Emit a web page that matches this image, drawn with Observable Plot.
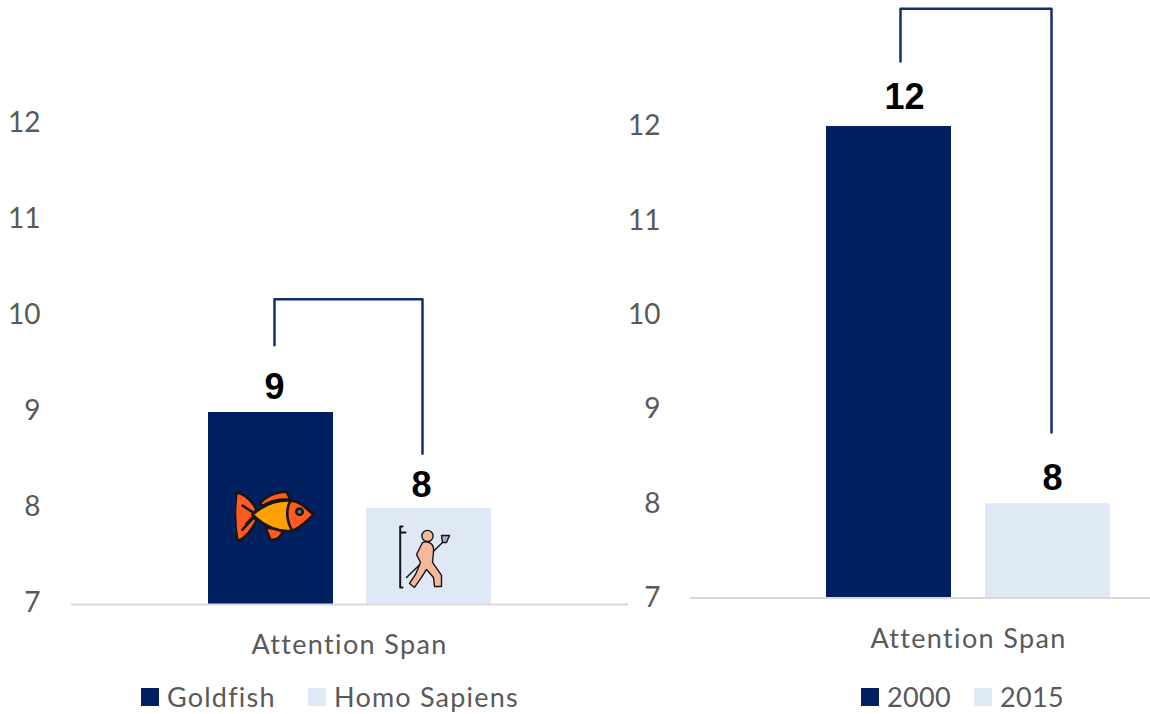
<!DOCTYPE html>
<html>
<head>
<meta charset="utf-8">
<script src="https://cdn.jsdelivr.net/npm/d3@7"></script>
<script src="https://cdn.jsdelivr.net/npm/@observablehq/plot@0.6"></script>
<style>
  html, body { margin: 0; background: #fff; }
  #page { position: relative; width: 1150px; height: 714px; overflow: hidden; font-family: Lato, sans-serif; }
  .panel { position: absolute; top: 0; }
  .panel svg { display: block; overflow: visible; }
  .axis-title text { letter-spacing: 1.35px; }
  .legend { position: absolute; color: #595959; font-size: 27px; line-height: 30px; white-space: nowrap; letter-spacing: 1.2px; }
  .legend span { position: absolute; top: 0; }
  .legend span.year { letter-spacing: 0.3px; }
  .legend i { position: absolute; width: 18px; height: 18px; top: 6px; }
</style>
</head>
<body>
<div id="page"></div>
<script>
const NAVY = "#002060", PALE = "#DEE9F5", GREY = "#595959", RULE = "#D9D9D9", LINK = "#123070";

// Left comparison
const speciesNames = ["Goldfish", "Homo Sapiens"];
const speciesValues = [9, 8];
const speciesBarStart = [1.096, 2.36];
const speciesLabelX = [1.624, 2.8];
const speciesBracketX = [1.624, 1.624, 2.808, 2.808];
const speciesBracketY = [9.7, 10.18, 10.18, 8.57];

// Right comparison
const yearNames = ["2000", "2015"];
const yearValues = [12, 8];
const yearBarStart = [1.088, 2.36];
const yearLabelX = [1.712, 2.896];
const yearBracketX = [1.68, 1.68, 2.888, 2.888];
const yearBracketY = [12.69, 13.25, 13.25, 8.755];

const yTicks = [7, 8, 9, 10, 11, 12];
const colours = [NAVY, PALE];

// Icons are inline SVG documents placed as image marks
const svgUri = s => "data:image/svg+xml;charset=utf-8," + encodeURIComponent(s);
const fishIcon = svgUri(`<svg xmlns="http://www.w3.org/2000/svg" viewBox="0 0 80 53">
<g stroke="#161616" stroke-width="2.6" stroke-linejoin="round" stroke-linecap="round">
<path fill="#FF5A1F" d="M25,14C30,8 40,2 52,2L56,10C45,9 34,12 29,16Z"/>
<path fill="#FF5A1F" d="M31,38L36,50C42,51 47,47 49,40Z"/>
<path fill="#FF5A1F" d="M2,3C11,4 19,13 22,20L18,25L22,31C18,39 10,50 3,51C0,36 0,18 2,3Z"/>
<path fill="none" d="M8,16L19,23M8,40L19,28M12,34L19,27"/>
<path fill="#FF9F00" d="M18,25C30,14 45,10 58,11C66,12 73,20 79,25C73,31 66,38 58,41C45,43 30,37 18,25Z"/>
<path fill="#FF5A1F" d="M56,11C66,11 73,20 79,25C73,31 66,38 58,41C52,33 51,19 56,11Z"/>
<circle cx="65" cy="22" r="3.2" fill="#5C7A80"/>
</g></svg>`);
const hunterIcon = svgUri(`<svg xmlns="http://www.w3.org/2000/svg" viewBox="0 0 56 66">
<g stroke="#161616" stroke-linecap="round" stroke-linejoin="round">
<path fill="none" stroke-width="2" d="M5,2L2.7,2L2.7,63L5,63M2.7,8L8,8"/>
<path fill="none" stroke-width="1.5" d="M9,53L46,17"/>
<path fill="#9DB7BE" stroke-width="1.4" d="M45,18L44,11L52,11L49,18Z"/>
<path fill="#F4B89A" stroke-width="1.4" d="M25,18C32,16 37,20 36,27L35,38L44,51L44,62L37,62L36,53L29,45L24,53L17,63L12,59L18,50L23,38L19,30Z"/>
<circle cx="30" cy="11.5" r="5.6" fill="#F4B89A" stroke-width="1.4"/>
</g></svg>`);

function comparisonPanel({left, width, marginLeft, axisY, unit, names, values, starts, labelX, labelDy, tickDy, bracketX, bracketY, xMax, titleX, titleDy, icons}) {
  const rows = names.map((name, i) => ({name, value: values[i], start: starts[i], labelX: labelX[i], colour: colours[i]}));
  const bracket = bracketX.map((x, i) => ({x, y: bracketY[i]}));
  const chart = Plot.plot({
    width, height: 714, marginLeft, marginRight: 0, marginTop: 0, marginBottom: 0,
    x: {type: "linear", domain: [0, xMax], range: [marginLeft, width], axis: null},
    y: {type: "linear", domain: [7, 7 + axisY / unit], range: [axisY, 0]},
    style: {background: "transparent", overflow: "visible"},
    marks: [
      Plot.rectY(rows, {x1: "start", x2: d => d.start + 1, y1: 7, y2: "value", fill: d => d.colour}),
      Plot.ruleY([7], {stroke: RULE, strokeWidth: 2.2}),
      Plot.axisY({ticks: yTicks, tickSize: 0, tickPadding: marginLeft - 40, label: null, dy: tickDy,
                  fill: GREY, fontSize: 28, fontFamily: "Lato, sans-serif", tickFormat: d3.format("d")}),
      Plot.line(bracket, {x: "x", y: "y", stroke: LINK, strokeWidth: 2.5}),
      ...rows.map((r, i) => Plot.text([r], {x: "labelX", y: "value", text: d => String(d.value), dy: labelDy[i],
                  fontFamily: "Liberation Sans", fontWeight: "bold", fontSize: 36, fill: "#000"})),
      Plot.text(["Attention Span"], {x: [titleX], y: [7], dy: titleDy, fill: GREY, fontSize: 27,
                  fontFamily: "Lato, sans-serif", className: "axis-title"}),
      ...(icons || [])
    ]
  });
  const holder = document.createElement("div");
  holder.className = "panel";
  holder.style.left = left + "px";
  holder.appendChild(chart);
  return holder;
}

function legendRow(top, entries) {
  const row = document.createElement("div");
  row.className = "legend";
  row.style.left = "0";
  row.style.top = top + "px";
  entries.forEach(e => {
    const sw = document.createElement("i");
    sw.style.left = e.swatch + "px";
    sw.style.background = e.colour;
    const tx = document.createElement("span");
    tx.style.left = e.text + "px";
    tx.textContent = e.label;
    if (e.year) tx.className = "year";
    row.append(sw, tx);
  });
  return row;
}

const page = document.getElementById("page");

page.appendChild(comparisonPanel({
  left: 0, width: 628, marginLeft: 71, axisY: 604, unit: 96,
  names: speciesNames, values: speciesValues, starts: speciesBarStart, labelX: speciesLabelX,
  labelDy: [-25, -23], tickDy: -1.5, bracketX: speciesBracketX, bracketY: speciesBracketY,
  xMax: 4.456, titleX: 2.224, titleDy: 41,
  icons: [
    Plot.image([{x: 1.624, y: 7.92}], {x: "x", y: "y", src: () => fishIcon, width: 80, height: 53}),
    Plot.image([{x: 2.832, y: 7.49}], {x: "x", y: "y", src: () => hunterIcon, width: 56, height: 66})
  ]
}));

page.appendChild(comparisonPanel({
  left: 620, width: 530, marginLeft: 70, axisY: 597.5, unit: 94.3,
  names: yearNames, values: yearValues, starts: yearBarStart, labelX: yearLabelX,
  labelDy: [-29, -25], tickDy: 0, bracketX: yearBracketX, bracketY: yearBracketY,
  xMax: 3.68, titleX: 2.224, titleDy: 41
}));

page.appendChild(legendRow(682, [
  {swatch: 141, colour: NAVY, text: 167, label: speciesNames[0]},
  {swatch: 308, colour: PALE, text: 334, label: speciesNames[1]},
  {swatch: 861, colour: NAVY, text: 887, label: yearNames[0], year: true},
  {swatch: 974, colour: PALE, text: 1000, label: yearNames[1], year: true}
]));
</script>
</body>
</html>
